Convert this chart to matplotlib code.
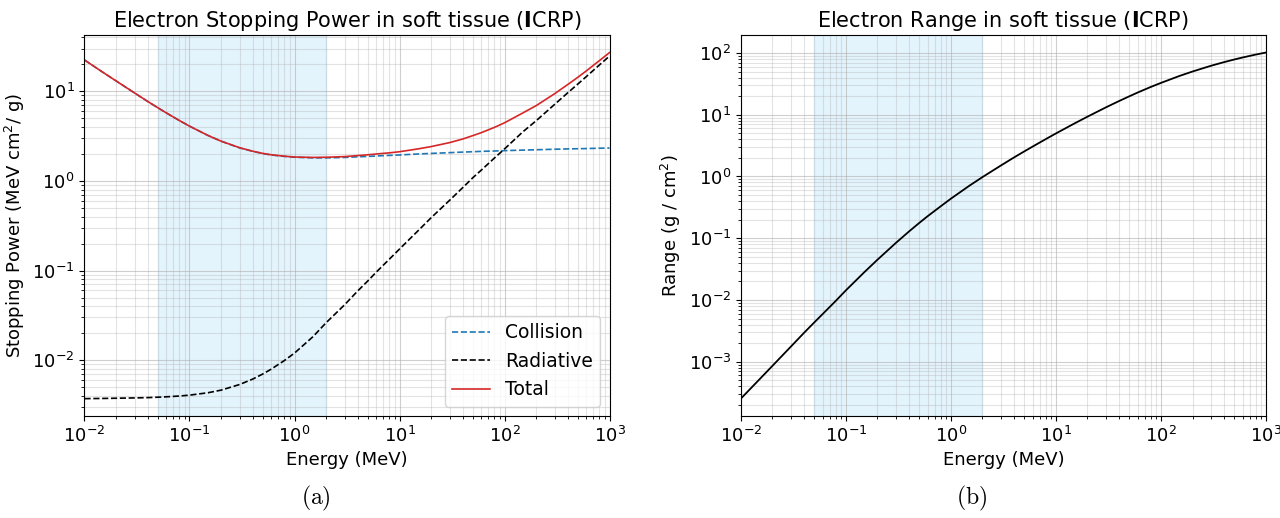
import numpy as np
import matplotlib
matplotlib.use('Agg')
import matplotlib.pyplot as plt

# Energies (MeV)
energy = [0.01, 0.015, 0.02, 0.03, 0.04, 0.05, 0.06, 0.08, 0.1, 0.15, 0.2, 0.3,
          0.4, 0.5, 0.6, 0.8, 1.0, 1.5, 2.0, 3.0, 4.0, 5.0, 6.0, 8.0, 10.0, 15.0,
          20.0, 30.0, 40.0, 50.0, 60.0, 80.0, 100.0, 150.0, 200.0, 300.0, 400.0,
          500.0, 600.0, 800.0, 1000.0]

# Stopping powers (MeV cm^2 / g)
collision = [22.4, 16.3, 13.08, 9.59, 7.72, 6.56, 5.76, 4.73, 4.09, 3.22, 2.78,
             2.34, 2.14, 2.02, 1.95, 1.88, 1.84, 1.81, 1.81, 1.83, 1.86, 1.88,
             1.90, 1.93, 1.95, 2.00, 2.03, 2.07, 2.10, 2.12, 2.14, 2.16, 2.18,
             2.21, 2.23, 2.26, 2.28, 2.29, 2.30, 2.32, 2.33]
radiative = [0.00372, 0.00374, 0.00376, 0.00379, 0.00382, 0.00386, 0.00390,
             0.00398, 0.00407, 0.00433, 0.00463, 0.00535, 0.00615, 0.00702,
             0.00794, 0.00990, 0.0120, 0.0183, 0.0262, 0.0415, 0.0593, 0.0768,
             0.0960, 0.134, 0.174, 0.278, 0.389, 0.609, 0.843, 1.09, 1.32, 1.80,
             2.28, 3.55, 4.70, 7.16, 9.65, 12.1, 14.6, 19.7, 24.8]
total = [22.40, 16.30, 13.08, 9.59, 7.72, 6.56, 5.76, 4.73, 4.09, 3.22, 2.78,
         2.35, 2.15, 2.03, 1.96, 1.89, 1.85, 1.83, 1.84, 1.87, 1.92, 1.96, 2.00,
         2.06, 2.12, 2.28, 2.42, 2.68, 2.94, 3.21, 3.46, 3.96, 4.46, 5.76, 6.93,
         9.42, 11.93, 14.39, 16.90, 22.02, 27.13]

# CSDA range (g / cm^2)
csda_range = [2.52e-4, 5.15e-4, 8.57e-4, 1.76e-3, 2.94e-3, 4.32e-3, 5.89e-3,
              9.63e-3, 1.43e-2, 2.82e-2, 4.49e-2, 8.42e-2, 0.129, 0.177, 0.227,
              0.329, 0.437, 0.709, 0.979, 1.51, 2.04, 2.55, 3.05, 4.03, 4.98,
              7.22, 9.32, 13.2, 16.7, 19.9, 22.9, 28.2, 32.8, 42.5, 50.2, 62.2,
              71.3, 78.6, 84.7, 94.4, 101.9]

# shaded energy band
band = (0.05, 2.0)

fig, (ax1, ax2) = plt.subplots(1, 2, figsize=(12.8, 5.18), dpi=100)
fig.subplots_adjust(left=0.066, right=0.989, top=0.932, bottom=0.197, wspace=0.25)

for ax in [ax1, ax2]:
    ax.axvspan(band[0], band[1], color='lightskyblue', alpha=0.22, lw=1, zorder=0)
    ax.set_xscale('log')
    ax.set_yscale('log')
    ax.set_xlim(1e-2, 1e3)
    ax.grid(True, which='major', color='#b0b0b0', alpha=0.6, lw=0.8)
    ax.grid(True, which='minor', color='#b0b0b0', alpha=0.35, lw=0.8)
    ax.set_xlabel("Energy (MeV)", fontsize=13)
    ax.tick_params(labelsize=13)

ax1.plot(energy, collision, '--', color='tab:blue', lw=1.2, label='Collision')
ax1.plot(energy, radiative, '--', color='black', lw=1.2, label='Radiative')
ax1.plot(energy, total, '-', color='tab:red', lw=1.2, label='Total')
ax1.set_ylabel(r"Stopping Power (MeV cm$^2$/ g)", fontsize=13)
ax1.set_title(r"Electron Stopping Power in soft tissue ($\mathbf{I}$CRP)", fontsize=15)
ax1.legend(loc='lower right', fontsize=13.5)

ax2.plot(energy, csda_range, '-', color='black', lw=1.3)
ax2.set_ylabel(r"Range (g / cm$^2$)", fontsize=13)
ax2.set_title(r"Electron Range in soft tissue ($\mathbf{I}$CRP)", fontsize=15)

fig.text(0.247, 0.038, r"$\mathrm{(a)}$", ha='center', va='center', fontsize=17, math_fontfamily='cm')
fig.text(0.759, 0.038, r"$\mathrm{(b)}$", ha='center', va='center', fontsize=17, math_fontfamily='cm')

fig.savefig('out.png', dpi=100)
